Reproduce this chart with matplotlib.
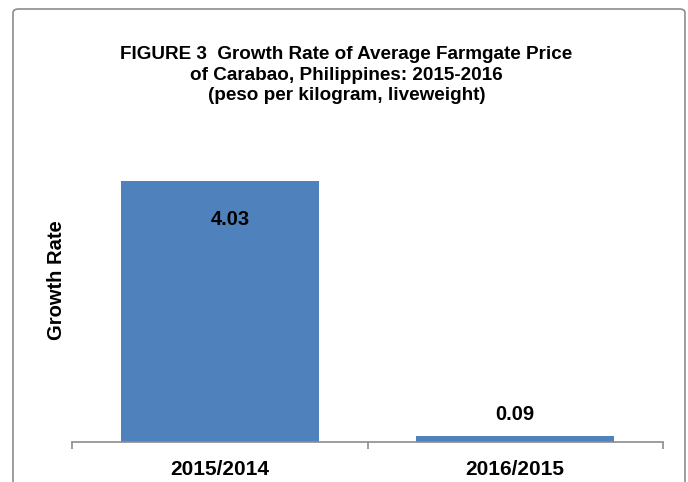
import matplotlib.pyplot as plt
from matplotlib.patches import FancyBboxPatch

plt.rcParams['font.family'] = ['Liberation Sans', 'DejaVu Sans']

categories = ['2015/2014', '2016/2015']
growth = [4.03, 0.09]
labels = ['4.03', '0.09']

W, H = 688, 482
fig = plt.figure(figsize=(W / 100, H / 100), dpi=100)

# outer chart border (runs off the bottom of the picture)
border = FancyBboxPatch((13 / W, -20 / H), (685 - 13) / W, (H - 9 + 20) / H,
                        boxstyle='round,pad=0,rounding_size=0.008',
                        transform=fig.transFigure, fill=False,
                        edgecolor='#8c8c8c', linewidth=1.2, clip_on=False)
fig.patches.append(border)

ax = fig.add_axes([72 / W, (H - 442) / H, (663 - 72) / W, (442 - 118) / H])
x = range(len(categories))
ax.bar(x, growth, width=0.67, color='#4f81bd')
ax.set_xlim(-0.5, 1.5)
ax.set_ylim(0, 5)

ax.text(0.037, growth[0] - 0.6, labels[0], ha='center', va='center',
        fontsize=14.5, fontweight='bold')
ax.text(1, growth[1] + 0.33, labels[1], ha='center', va='center',
        fontsize=14.5, fontweight='bold')

for s in ['top', 'right', 'left']:
    ax.spines[s].set_visible(False)
ax.spines['bottom'].set_color('#8c8c8c')
ax.spines['bottom'].set_linewidth(1.2)
ax.set_yticks([])
ax.set_xticks([-0.5, 0.5, 1.5])
ax.set_xticklabels([])
ax.tick_params(axis='x', length=5, color='#8c8c8c', width=1.2)
for i, c in enumerate(categories):
    ax.text(i, -0.43, c, ha='center', va='center', fontsize=15,
            fontweight='bold')

fig.text(56 / W, 1 - 280 / H, 'Growth Rate', rotation=90, ha='center',
         va='center', fontsize=14.5, fontweight='bold')

fig.text(346.5 / W, 1 - 75 / H,
         'FIGURE 3  Growth Rate of Average Farmgate Price\n'
         'of Carabao, Philippines: 2015-2016\n'
         '(peso per kilogram, liveweight)',
         ha='center', va='center', fontsize=13.6, fontweight='bold',
         linespacing=1.3)

fig.savefig('out.png', dpi=100)
